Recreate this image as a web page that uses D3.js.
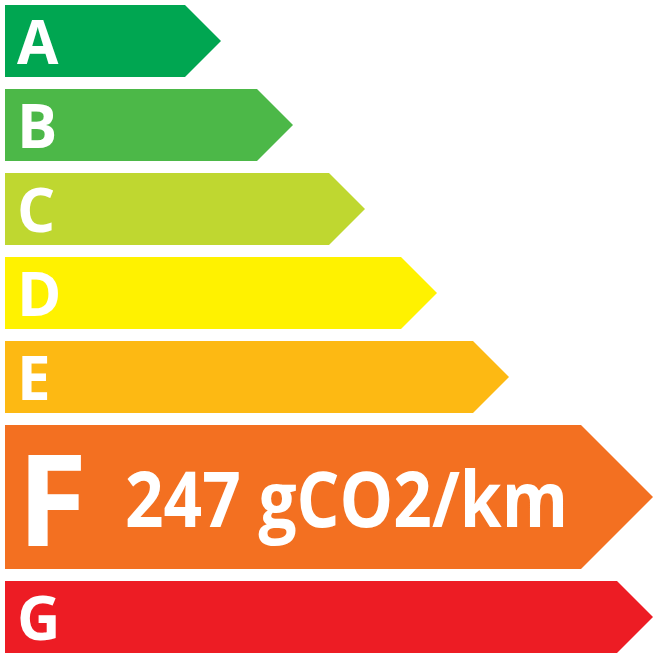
<!DOCTYPE html>
<html>
<head>
<meta charset="utf-8">
<script src="https://cdn.jsdelivr.net/npm/d3@7"></script>
<style>
  html, body { margin: 0; padding: 0; background: #fff; }
  svg { display: block; }
</style>
</head>
<body>
<svg id="chart" width="658" height="658"></svg>
<script>
// energy classes, best to worst
const classes = ['A', 'B', 'C', 'D', 'E', 'F', 'G'];
const classColors = ['#00a651', '#4cb848', '#bfd730', '#fff200', '#fdb913', '#f37021', '#ed1c24'];
// relative length of each arrow (1 = shortest)
const classLengths = [1, 2, 3, 4, 5, 6, 7];
const rating = 'F';
const emission = 247;
const emissionUnit = 'gCO2/km';

const svg = d3.select('#chart');

const rowH = 72;     // normal arrow height
const gap = 12;
const left = 5;

// x scale: length unit -> x of the arrow body end
const x = d3.scaleLinear().domain([0, 7]).range([113, 617]);

// stack rows top to bottom, selected one is twice as tall
let yPos = left;
const rows = classes.map((c, i) => {
  const selected = c === rating;
  const h = selected ? rowH * 2 : rowH;
  const tip = h / 2;
  const bodyEnd = selected ? x(d3.max(classLengths)) + rowH / 2 - tip : x(classLengths[i]);
  const r = { c, color: classColors[i], y: yPos, h, tip, bodyEnd, selected };
  yPos += h + gap;
  return r;
});

const arrow = d => {
  const p = d3.path();
  p.moveTo(left, d.y);
  p.lineTo(d.bodyEnd, d.y);
  p.lineTo(d.bodyEnd + d.tip, d.y + d.h / 2);
  p.lineTo(d.bodyEnd, d.y + d.h);
  p.lineTo(left, d.y + d.h);
  p.closePath();
  return p.toString();
};

const g = svg.selectAll('g.row')
  .data(rows)
  .join('g')
  .attr('class', 'row');

g.append('path')
  .attr('d', arrow)
  .attr('fill', d => d.color);

g.append('text')
  .attr('x', 17)
  .attr('y', d => d.y + d.h / 2 + (d.selected ? 49 : 23))
  .attr('font-family', '"Open Sans", sans-serif')
  .attr('font-weight', 700)
  .attr('font-size', d => d.selected ? 128 : 60)
  .attr('fill', '#fff')
  .text(d => d.c);

// value label on the selected arrow
const sel = rows.find(d => d.selected);
svg.append('text')
  .attr('x', 125)
  .attr('y', sel.y + sel.h / 2 + 30)
  .attr('font-family', '"Open Sans", sans-serif')
  .attr('font-weight', 700)
  .attr('font-size', 77)
  .attr('fill', '#fff')
  .attr('textLength', 443)
  .attr('lengthAdjust', 'spacingAndGlyphs')
  .text(`${emission} ${emissionUnit}`);
</script>
</body>
</html>
